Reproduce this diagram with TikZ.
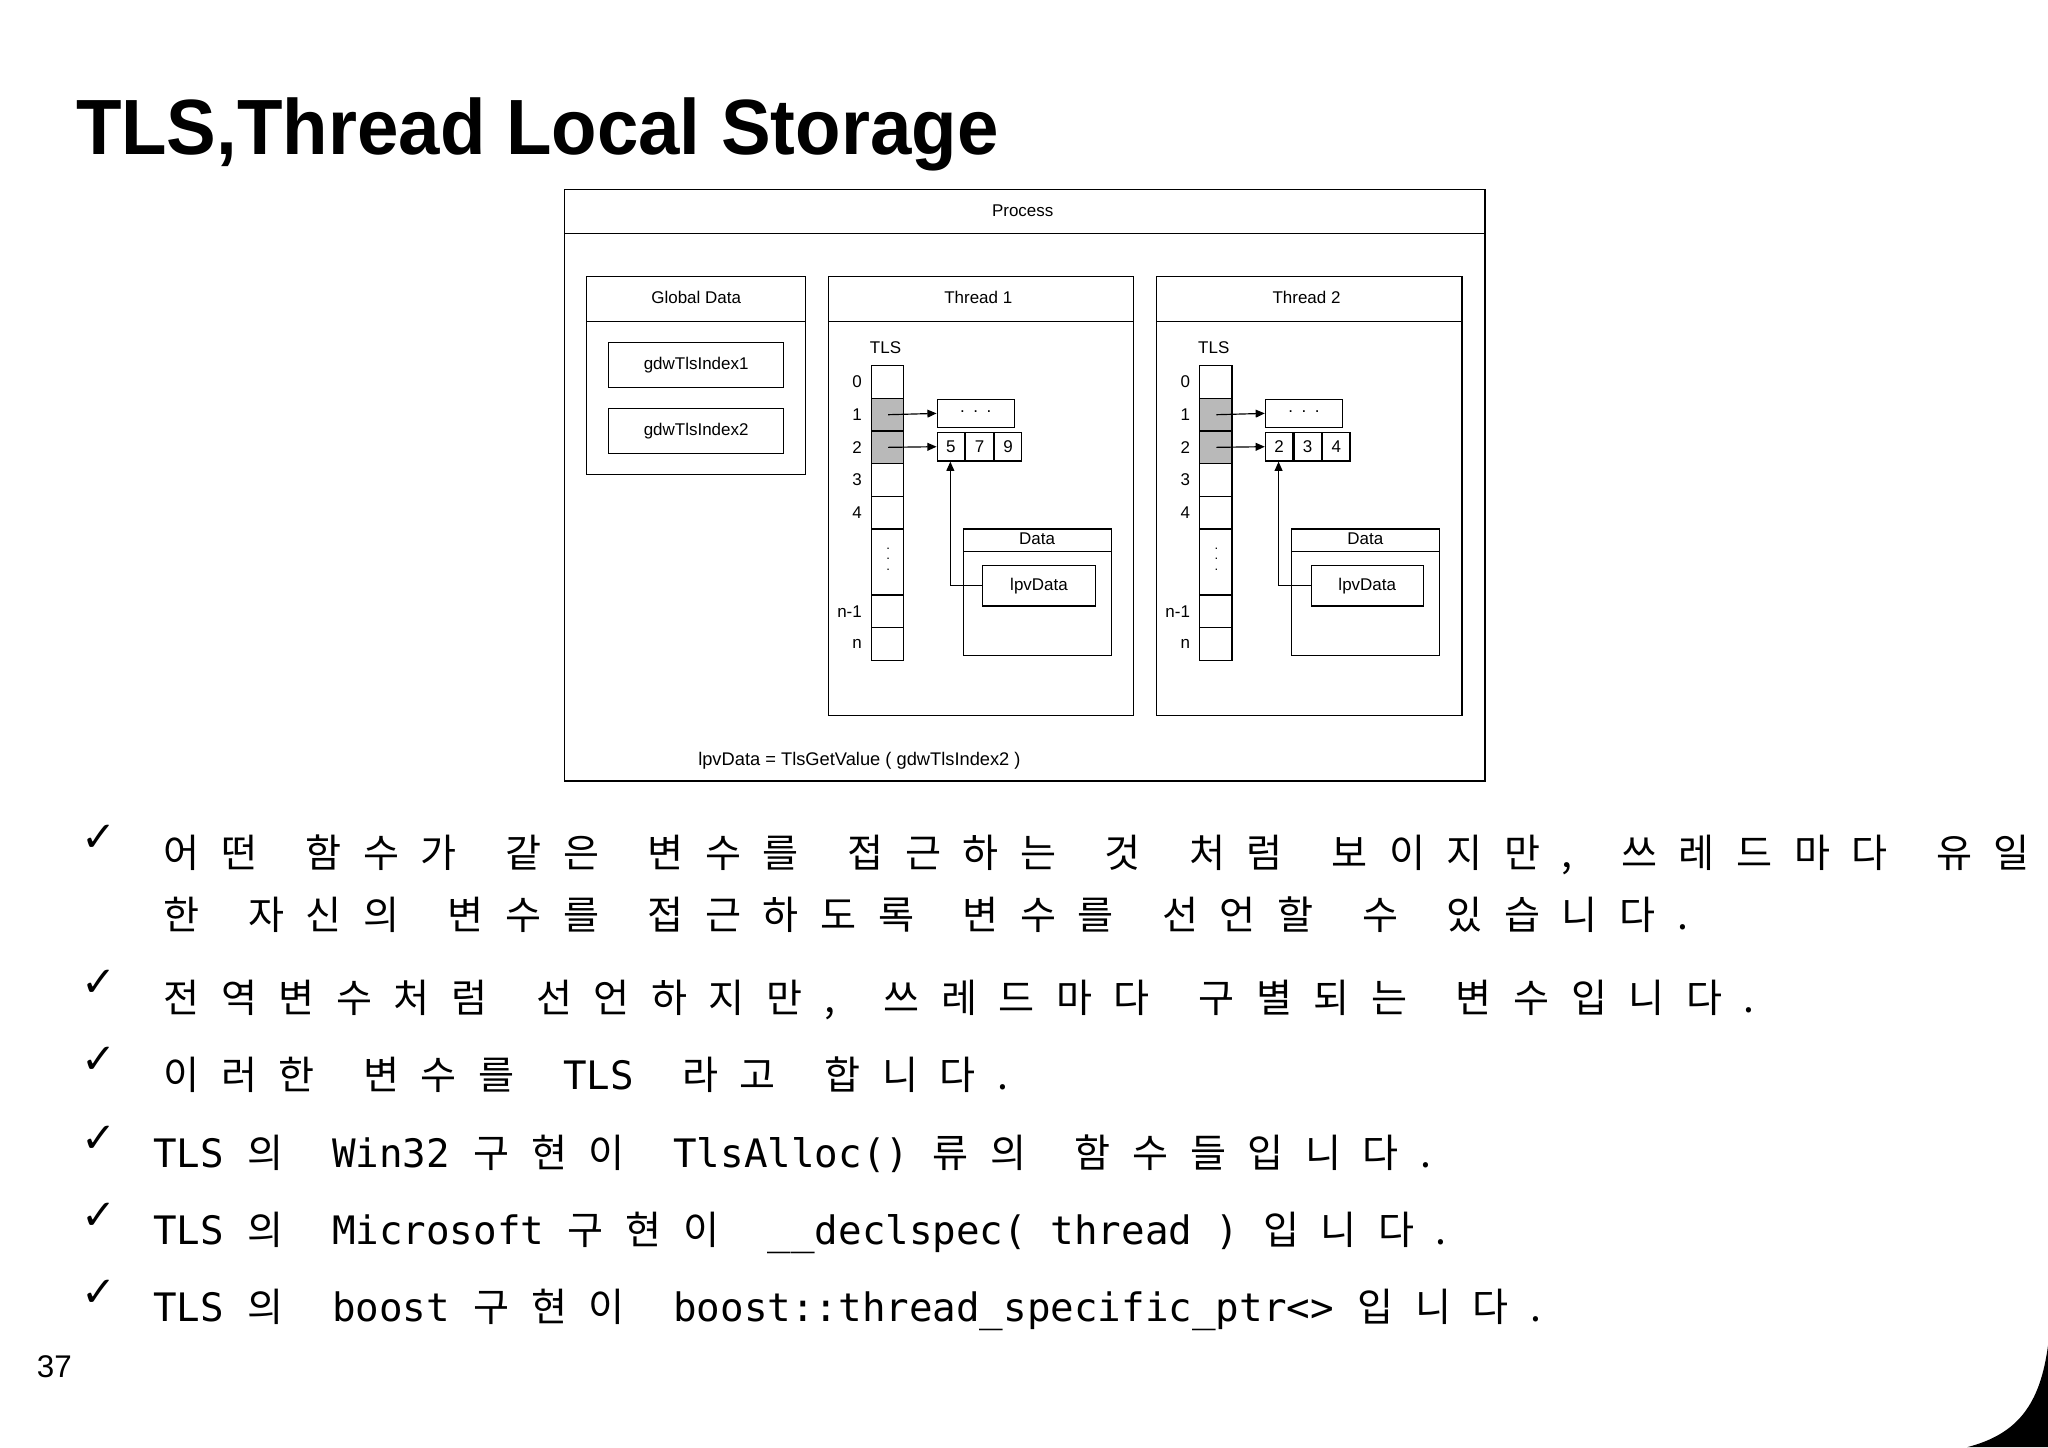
\documentclass[tikz,border=0pt]{standalone}
\usepackage{fontspec}
\setmainfont{Liberation Sans}
\newfontfamily\kor[LetterSpace=55,WordSpace=1.6]{Noto Sans CJK KR}
\newfontfamily\mono{DejaVu Sans Mono}
\newfontfamily\chk{DejaVu Sans}
\newfontfamily\ttl[FakeStretch=0.95]{Liberation Sans}
\newcommand\K[1]{{\kor #1}}
\newcommand\M[1]{{\mono #1}}
\usetikzlibrary{arrows.meta,positioning}
\begin{document}
\begin{tikzpicture}[x=1pt,y=-1pt,
  box/.style={draw,line width=0.9pt,inner sep=0pt},
  dg/.style={font=\fontsize{13}{14}\selectfont},
  arr/.style={-{Triangle[length=7pt,width=6pt]},line width=0.9pt},
  bl/.style={anchor=base west,inner sep=0pt,font=\fontsize{30}{34}\selectfont},
  ck/.style={anchor=base west,inner sep=0pt,font=\chk\bfseries\fontsize{32}{34}\selectfont}]
\useasboundingbox (0,0) rectangle (1568,1108);
\fill[white] (0,0) rectangle (1568,1108);
\node[anchor=base west,inner sep=0pt,font=\ttl\bfseries\fontsize{60}{64}\selectfont] (title) at (58,118) {TLS,Thread Local Storage};
% Process
\draw[line width=0.9pt] (432,145) rectangle (1137,598);
\draw[line width=0.9pt] (432,179) -- (1137,179);
\node[dg] (proc) at (783,161) {Process};
% Global data
\draw[line width=0.9pt] (449,212) rectangle (617,363);
\draw[line width=0.9pt] (449,246) -- (617,246);
\node[dg] (gd) at (533,228) {Global Data};
\node[box,dg,minimum width=134pt,minimum height=34pt] (g1) at (533,279.5) {gdwTlsIndex1};
\node[box,dg,minimum width=134pt,minimum height=35pt] (g2) at (533,330) {gdwTlsIndex2};
\node[dg,anchor=base,font=\fontsize{14}{15}\selectfont] (eq) at (658,586) {lpvData = TlsGetValue ( gdwTlsIndex2 )};
\foreach \dx/\p/\name/\a/\b/\c in {0/A/Thread 1/5/7/9, 251.3/B/Thread 2/2/3/4}{
\begin{scope}[xshift=\dx]
\draw[line width=0.9pt] (634,212) rectangle (868,548);
\draw[line width=0.9pt] (634,246) -- (868,246);
\node[dg] (\p th) at (749,228) {\name};
\node[dg] (\p tls) at (678,266) {TLS};
\fill[gray!55] (667,305) rectangle (692,355);
\foreach \t/\bt/\lab/\i in {279.6/305/0/0,305/330/1/1,330/355/2/2,355/380/3/3,380/405/4/4,405/455.5//5,455.5/480.6/n-1/6,480.6/506/n/7}{
  \draw[line width=0.9pt] (667,\t) rectangle (692,\bt);
  \node[dg,anchor=east,inner sep=0pt] (\p l\i) at (660,{(\t+\bt)/2}) {\lab};
}
\node[dg,align=center,inner sep=0pt,font=\fontsize{10}{8}\selectfont] (\p dots) at (680,428) {.\\.\\.};
\node[box,dg,minimum width=59pt,minimum height=21pt] (\p d1) at (747,316.5) {\raisebox{3pt}{.\,\,\,.\,\,\,.}};
\node[box,dg,minimum width=21pt,minimum height=22pt] (\p v1) at (728,342) {\a};
\node[box,dg,minimum width=21pt,minimum height=22pt,right=0pt of \p v1] (\p v2) {\b};
\node[box,dg,minimum width=21pt,minimum height=22pt,right=0pt of \p v2] (\p v3) {\c};
\coordinate (\p s1) at (680,317.5);
\coordinate (\p s2) at (680,342.5);
\draw[arr] (\p s1) -- (\p d1.west);
\draw[arr] (\p s2) -- (\p v1.west);
\draw[line width=0.9pt] (737.6,405) rectangle (851,502);
\draw[line width=0.9pt] (737.6,422) -- (851,422);
\node[dg] (\p data) at (794,412.5) {Data};
\node[box,dg,minimum width=86pt,minimum height=31pt] (\p lpv) at (795.5,448.5) {lpvData};
\draw[arr] (\p lpv.west) -| ([xshift=-0.4pt]\p v1.south);
\end{scope}}
% bullets
\foreach \y/\i in {652/1,763/2,822/3,882/4,941/5,1000/6}{\node[ck] (c\i) at (62,\y) {✓};}
\node[bl] (b1) at (125,664) {\K{어떤 함수가 같은 변수를 접근하는 것 처럼 보이지만, 쓰레드마다 유일}};
\node[bl] (b1b) at (125,712) {\K{한 자신의 변수를 접근하도록 변수를 선언할 수 있습니다.}};
\node[bl] (b2) at (125,775) {\K{전역변수처럼 선언하지만, 쓰레드마다 구별되는 변수입니다.}};
\node[bl] (b3) at (125,834) {\K{이러한 변수를 }\M{TLS}\K{ 라고 합니다.}};
\node[bl] (b4) at (117,894) {\M{TLS }\K{의 }\M{Win32 }\K{구현이 }\M{TlsAlloc() }\K{류의 함수들입니다.}};
\node[bl] (b5) at (117,953) {\M{TLS }\K{의 }\M{Microsoft }\K{구현이 }\M{\_\_declspec( thread ) }\K{입니다.}};
\node[bl] (b6) at (117,1012) {\M{TLS }\K{의 }\M{boost }\K{구현이 }\M{boost::thread\_specific\_ptr<> }\K{입니다.}};
\node[anchor=base west,inner sep=0pt,font=\fontsize{24}{26}\selectfont] (pg) at (28,1055) {37};
\fill[black] (1568,1030) .. controls (1562,1075) and (1545,1098) .. (1506,1108) -- (1568,1108) -- cycle;
\end{tikzpicture}
\end{document}
